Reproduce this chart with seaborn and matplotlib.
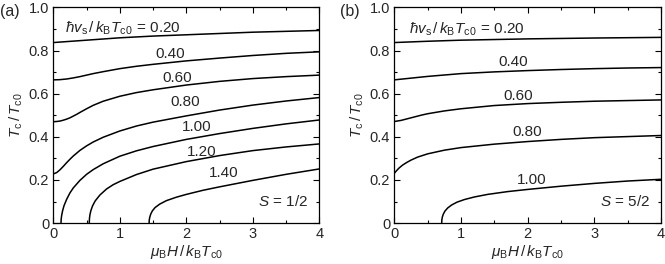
import matplotlib
matplotlib.use("Agg")
import matplotlib.pyplot as plt
import seaborn as sns
import pandas as pd
from matplotlib.ticker import MultipleLocator

# ---- data (H = muB H / kB Tc0, T = Tc / Tc0) ----
# panel (a), S = 1/2
a020_H = [0, 0.5, 1, 1.5, 2, 2.5, 3, 3.5, 4]
a020_T = [0.837, 0.848, 0.859, 0.867, 0.873, 0.879, 0.885, 0.889, 0.893]
a040_H = [0, 0.1, 0.2, 0.3, 0.4, 0.5, 0.6, 0.75, 1, 1.25, 1.5, 2, 2.5, 3, 3.5, 4]
a040_T = [0.664, 0.665, 0.668, 0.673, 0.679, 0.686, 0.693, 0.702, 0.716, 0.727, 0.736, 0.752,
          0.765, 0.777, 0.787, 0.794]
a060_H = [0, 0.05, 0.1, 0.15, 0.2, 0.25, 0.3, 0.35, 0.4, 0.5, 0.6, 0.75, 1, 1.25, 1.5, 2, 2.5,
          3, 3.5, 4]
a060_T = [0.470, 0.471, 0.473, 0.477, 0.482, 0.488, 0.496, 0.504, 0.513, 0.530, 0.546, 0.565,
          0.588, 0.605, 0.618, 0.640, 0.657, 0.670, 0.679, 0.686]
a080_H = [0, 0.05, 0.1, 0.15, 0.2, 0.25, 0.3, 0.4, 0.5, 0.6, 0.75, 1, 1.25, 1.5, 2, 2.5, 3, 3.5, 4]
a080_T = [0.228, 0.234, 0.247, 0.263, 0.280, 0.296, 0.311, 0.337, 0.358, 0.376, 0.398, 0.427,
          0.450, 0.468, 0.497, 0.524, 0.547, 0.566, 0.582]
a100_H = [0.115, 0.118, 0.125, 0.14, 0.16, 0.2, 0.25, 0.3, 0.4, 0.5, 0.6, 0.75, 1, 1.25, 1.5,
          2, 2.5, 3, 3.5, 4]
a100_T = [0, 0.018, 0.035, 0.058, 0.080, 0.110, 0.140, 0.163, 0.198, 0.226, 0.248, 0.275, 0.310,
          0.335, 0.355, 0.388, 0.415, 0.439, 0.460, 0.478]
a120_H = [0.54, 0.543, 0.55, 0.565, 0.59, 0.63, 0.7, 0.8, 0.9, 1, 1.25, 1.5, 2, 2.5, 3, 3.5, 4]
a120_T = [0, 0.020, 0.038, 0.058, 0.080, 0.103, 0.130, 0.158, 0.178, 0.193, 0.225, 0.250, 0.285,
          0.313, 0.336, 0.353, 0.367]
a140_H = [1.44, 1.442, 1.45, 1.465, 1.49, 1.53, 1.6, 1.7, 1.85, 2, 2.25, 2.5, 3, 3.5, 4]
a140_T = [0, 0.013, 0.027, 0.042, 0.057, 0.072, 0.088, 0.104, 0.120, 0.133, 0.152, 0.168, 0.198,
          0.226, 0.251]

# panel (b), S = 5/2
b020_H = [0, 0.5, 1, 1.5, 2, 3, 4]
b020_T = [0.837, 0.843, 0.848, 0.851, 0.854, 0.858, 0.861]
b040_H = [0, 0.5, 1, 1.5, 2, 2.5, 3, 3.5, 4]
b040_T = [0.664, 0.680, 0.693, 0.701, 0.707, 0.712, 0.716, 0.719, 0.721]
b060_H = [0, 0.1, 0.2, 0.3, 0.4, 0.5, 0.75, 1, 1.5, 2, 2.5, 3, 3.5, 4]
b060_T = [0.471, 0.476, 0.484, 0.492, 0.500, 0.507, 0.520, 0.530, 0.545, 0.554, 0.560, 0.565,
          0.568, 0.571]
b080_H = [0, 0.03, 0.07, 0.12, 0.18, 0.25, 0.35, 0.5, 0.75, 1, 1.5, 2, 2.5, 3, 3.5, 4]
b080_T = [0.231, 0.242, 0.255, 0.268, 0.280, 0.292, 0.306, 0.321, 0.338, 0.350, 0.366, 0.378,
          0.388, 0.396, 0.401, 0.406]
b100_H = [0.71, 0.712, 0.72, 0.735, 0.76, 0.8, 0.86, 0.94, 1.05, 1.2, 1.4, 1.7, 2, 2.5, 3, 3.5, 4]
b100_T = [0, 0.014, 0.028, 0.042, 0.056, 0.070, 0.084, 0.097, 0.109, 0.121, 0.133, 0.146, 0.156,
          0.171, 0.184, 0.195, 0.203]

a_curves = [(a020_H, a020_T), (a040_H, a040_T), (a060_H, a060_T), (a080_H, a080_T),
            (a100_H, a100_T), (a120_H, a120_T), (a140_H, a140_T)]
b_curves = [(b020_H, b020_T), (b040_H, b040_T), (b060_H, b060_T), (b080_H, b080_T),
            (b100_H, b100_T)]

a_labels = ["0.40", "0.60", "0.80", "1.00", "1.20", "1.40"]
a_label_xy = [(1.75, 0.783), (1.86, 0.672), (1.98, 0.563), (2.16, 0.447), (2.23, 0.331), (2.56, 0.231)]
b_labels = ["0.40", "0.60", "0.80", "1.00"]
b_label_xy = [(1.79, 0.745), (1.86, 0.587), (1.99, 0.42), (2.06, 0.2)]

x_ticks = [0, 1, 2, 3, 4]
x_ticklabels = ["0", "1", "2", "3", "4"]
y_ticks = [0, 0.2, 0.4, 0.6, 0.8, 1.0]
y_ticklabels = ["0", "0.2", "0.4", "0.6", "0.8", "1.0"]

first_label = r"$\hbar v_{\rm s}\,/\,k_{\rm B}T_{\rm c0}\,{=}\,0.20$"

FS = 10.5

sns.set_style("ticks")
plt.rcParams['font.family'] = ['Liberation Sans', 'DejaVu Sans']
plt.rcParams['mathtext.fontset'] = 'custom'
plt.rcParams['mathtext.rm'] = 'Liberation Sans'
plt.rcParams['mathtext.it'] = 'Liberation Sans:italic'
plt.rcParams['mathtext.bf'] = 'Liberation Sans:bold'
plt.rcParams['font.size'] = FS

fig = plt.figure(figsize=(6.65, 2.64), dpi=100)
ax_a = fig.add_axes([0.0802, 0.155, 0.4, 0.817])
ax_b = fig.add_axes([0.593, 0.155, 0.401, 0.817])


def draw_panel(ax, curves, labels, label_xy, s_text, first_xy):
    for H, T in curves:
        df = pd.DataFrame({"H": H, "T": T})
        sns.lineplot(data=df, x="H", y="T", ax=ax, color="black", lw=1.1,
                     estimator=None, sort=False)
    ax.set_xlim(0, 4)
    ax.set_ylim(0, 1.0)
    ax.set_xticks(x_ticks)
    ax.set_xticklabels(x_ticklabels)
    ax.set_yticks(y_ticks)
    ax.set_yticklabels(y_ticklabels)
    ax.xaxis.set_minor_locator(MultipleLocator(0.5))
    ax.yaxis.set_minor_locator(MultipleLocator(0.1))
    ax.tick_params(which="both", direction="in", top=True, right=True, labelsize=FS,
                   width=0.8, color="black", pad=3)
    ax.tick_params(which="major", length=4)
    ax.tick_params(which="minor", length=2.5)
    for sp in ax.spines.values():
        sp.set_linewidth(0.9)
        sp.set_color("black")
        sp.set_visible(True)
    ax.set_xlabel(r"$\mu_{\rm B}H\,/\,k_{\rm B}T_{\rm c0}$", fontsize=FS + 0.5, labelpad=1)
    ax.set_ylabel(r"$T_{\rm c}\,/\,T_{\rm c0}$", fontsize=FS + 0.5, labelpad=3)
    ax.text(first_xy[0], first_xy[1], first_label, ha="left", va="center", fontsize=FS + 0.5)
    for lab, (x, y) in zip(labels, label_xy):
        ax.text(x, y, lab, ha="center", va="center", fontsize=FS + 0.5)
    ax.text(3.46, 0.102, s_text, ha="center", va="center", fontsize=FS + 0.5)


draw_panel(ax_a, a_curves, a_labels, a_label_xy, r"$S$ = 1/2", (0.18, 0.905))
draw_panel(ax_b, b_curves, b_labels, b_label_xy, r"$S$ = 5/2", (0.22, 0.9))

fig.text(0.0, 0.955, "(a)", fontsize=11.5, ha="left", va="center")
fig.text(0.512, 0.955, "(b)", fontsize=11.5, ha="left", va="center")

fig.savefig("out.png", dpi=100)
